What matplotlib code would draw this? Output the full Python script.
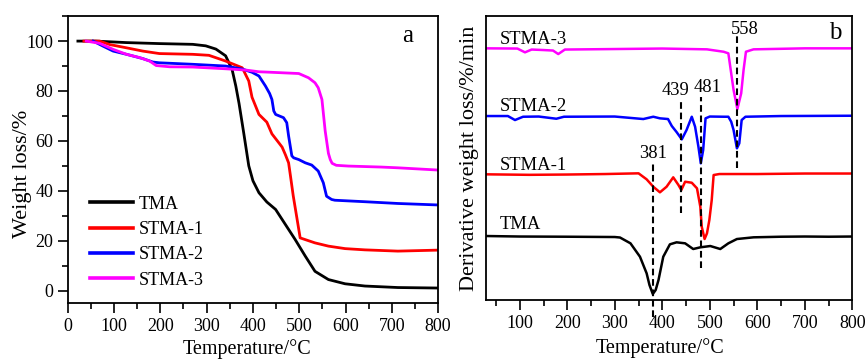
import matplotlib
matplotlib.use("Agg")
import matplotlib.pyplot as plt
from matplotlib.ticker import MultipleLocator

plt.rcParams['font.family'] = ['Liberation Serif', 'DejaVu Serif']
plt.rcParams['font.size'] = 13

# ---- panel a : TGA ----
tma_t = [22, 60, 127, 198, 270, 298, 320, 341, 355, 363, 370, 380, 391, 400, 413, 430, 449,
         463, 477, 491, 513, 534, 563, 599, 642, 713, 800]
tma_w = [100, 100, 99.4, 99, 98.7, 98.1, 96.8, 94.1, 88.6, 82, 75, 63.3, 50, 44, 39.2, 35.5, 32.5,
         28.5, 24.5, 20.5, 13.8, 7.7, 4.4, 2.7, 1.8, 1.2, 1.0]

s1_t = [35, 69, 91, 127, 162, 198, 270, 305, 341, 377, 391, 398, 413, 430, 441, 456, 463, 470,
        477, 481, 487, 495, 502, 534, 563, 599, 642, 713, 800]
s1_w = [100, 100, 98.6, 97.3, 96, 95, 94.7, 94.3, 92, 89.3, 84, 77.5, 70.6, 67.5, 62.8, 59.2, 57.5,
        54.5, 51.2, 46, 38, 29, 21.1, 19.1, 17.8, 16.8, 16.3, 15.8, 16.2]

s2_t = [55, 76, 98, 127, 162, 184, 198, 270, 341, 377, 398, 413, 427, 436, 441, 445, 449, 466,
        473, 477, 484, 488, 499, 513, 527, 541, 552, 559, 570, 577, 642, 713, 800]
s2_w = [100, 98, 96, 94.7, 93, 91.6, 91.3, 90.7, 90, 88.8, 87.5, 86, 82, 79, 76.6, 72, 70.6, 69.3,
        67.3, 62, 54, 53.2, 52.5, 51.2, 50.3, 47.9, 43.2, 37.8, 36.5, 36.2, 35.6, 34.9, 34.3]

s3_t = [40, 69, 98, 127, 155, 177, 191, 220, 270, 341, 384, 413, 427, 499, 520, 534, 541, 549,
        556, 563, 567, 571, 580, 606, 677, 713, 800]
s3_w = [100, 99.1, 96.7, 94.7, 93.4, 92, 90.2, 89.7, 89.6, 88.9, 88.4, 87.7, 87.6, 87, 85.3, 83.3,
        81.3, 76.6, 64, 55, 52.5, 51, 50.2, 49.9, 49.5, 49.2, 48.3]

# ---- panel b : DTG (curves stacked, arbitrary units) ----
d_tma_t = [30, 100, 200, 300, 311, 333, 353, 367, 373, 380, 386, 392, 402, 416, 430, 448, 465,
           480, 501, 522, 539, 557, 592, 650, 700, 750, 800]
d_tma_v = [64, 63.5, 63.3, 63, 62.5, 56.7, 43.3, 26.7, 15, 6, 10, 20, 43.3, 55.7, 57.7, 56.7, 51,
           52.7, 54, 51, 56.7, 61, 62.7, 63.3, 63.5, 63.3, 63.5]

d_s1_t = [30, 120, 200, 280, 350, 367, 381, 395, 409, 423, 434, 440, 448, 462, 473, 480, 483,
          489, 494, 499, 504, 508, 520, 600, 700, 800]
d_s1_v = [125.7, 125.2, 125.5, 126, 126.7, 120.7, 113.3, 107.7, 113.3, 122.7, 115, 110, 118.3,
          117.3, 111.7, 93.3, 73.3, 61, 66.7, 80, 100, 125, 126, 126, 126.5, 126.5]

d_s2_t = [30, 75, 90, 107, 140, 177, 193, 300, 360, 381, 395, 412, 420, 430, 441, 451, 462, 469,
          476, 481, 486, 491, 500, 530, 539, 545, 550, 557, 562, 567, 575, 650, 800]
d_s2_v = [184, 184, 180, 183.3, 183.5, 181.3, 183.3, 183.5, 181, 183.3, 181.7, 181, 174, 168,
          160.7, 170, 183.3, 173.3, 153.3, 136.7, 150, 181.7, 183.5, 183.3, 183.3, 178.3, 170,
          151.7, 156.7, 180, 183.3, 184, 184.3]

d_s3_t = [30, 95, 111, 125, 150, 170, 181, 195, 300, 400, 494, 529, 539, 544, 550, 558, 566, 571,
          576, 592, 700, 800]
d_s3_v = [251.7, 251.5, 247.7, 250.5, 250, 249.5, 246, 250.5, 251, 251.5, 250.7, 248.3, 246.7,
          230, 210, 191, 206.7, 230, 248.3, 250.7, 251.7, 251.7]

names = ['TMA', 'STMA-1', 'STMA-2', 'STMA-3']
colors = ['black', '#ff0000', '#0000ff', '#ff00ff']

# peak markers: temperature, dashed line span, label height
peak_t = [381, 439, 481, 558]
peak_lo = [-17, 86.7, 31.7, 131.7]
peak_hi = [136.7, 198.3, 203.3, 266.7]
peak_lab_x = [381, 428, 495, 574]
peak_lab_y = [146.7, 210, 212.7, 270.7]

fig = plt.figure(figsize=(8.68, 3.59), dpi=100)
ax1 = fig.add_axes([0.078, 0.156, 0.4268, 0.799])
ax2 = fig.add_axes([0.5596, 0.1643, 0.4224, 0.791])

tga = [(tma_t, tma_w), (s1_t, s1_w), (s2_t, s2_w), (s3_t, s3_w)]
for (t, w), n, c in zip(tga, names, colors):
    ax1.plot(t, w, color=c, lw=2, label=n)

ax1.set_xlim(0, 800)
ax1.set_ylim(-5, 110)
ax1.xaxis.set_major_locator(MultipleLocator(100))
ax1.xaxis.set_minor_locator(MultipleLocator(50))
ax1.yaxis.set_major_locator(MultipleLocator(20))
ax1.yaxis.set_minor_locator(MultipleLocator(10))
ax1.tick_params(which='major', direction='out', length=7, width=1.2, labelsize=13)
ax1.tick_params(which='minor', direction='out', length=4, width=1.2)
ax1.set_xlabel('Temperature/°C', fontsize=14.5, labelpad=3)
ax1.set_ylabel('Weight loss/%', fontsize=16, labelpad=-4)
ax1.xaxis.label.set_x(0.485)
ax1.yaxis.label.set_y(0.449)
ax1.text(733, 102, 'a', fontsize=18, ha='center', va='center')
leg = ax1.legend(loc='upper left', bbox_to_anchor=(0.06, 0.374), frameon=False,
                 handlelength=2.4, handletextpad=0.3, labelspacing=0.46,
                 borderaxespad=0, borderpad=0, fontsize=13)
for h in leg.get_lines():
    h.set_linewidth(2.6)

dtg = [(d_tma_t, d_tma_v), (d_s1_t, d_s1_v), (d_s2_t, d_s2_v), (d_s3_t, d_s3_v)]
for (t, v), c in zip(dtg, colors):
    ax2.plot(t, v, color=c, lw=1.8)

for t, lo, hi in zip(peak_t, peak_lo, peak_hi):
    ax2.plot([t, t], [lo, hi], color='black', lw=1.5, ls=(0, (3.2, 1.8)), clip_on=False)
for x, y, t in zip(peak_lab_x, peak_lab_y, peak_t):
    ax2.text(x, y, str(t), fontsize=13.3, ha='center', va='center')

lab_y = [76, 135, 193.3, 260.7]
for n, y in zip(names, lab_y):
    ax2.text(58, y, n, fontsize=13.4, ha='left', va='center')
ax2.text(765, 266.7, 'b', fontsize=18, ha='center', va='center')

ax2.set_xlim(28.4, 800)
ax2.set_ylim(0, 284)
ax2.xaxis.set_major_locator(MultipleLocator(100))
ax2.xaxis.set_minor_locator(MultipleLocator(50))
ax2.set_yticks([])
ax2.tick_params(which='major', direction='out', length=7, width=1.2, labelsize=13)
ax2.tick_params(which='minor', direction='out', length=4, width=1.2)
ax2.set_xlabel('Temperature/°C', fontsize=14.5, labelpad=5)
ax2.set_ylabel('Derivative weight loss/%/min', fontsize=16, labelpad=5)
ax2.xaxis.label.set_x(0.475)

for ax in (ax1, ax2):
    for sp in ax.spines.values():
        sp.set_linewidth(1.3)

fig.savefig('out.png', dpi=100)
